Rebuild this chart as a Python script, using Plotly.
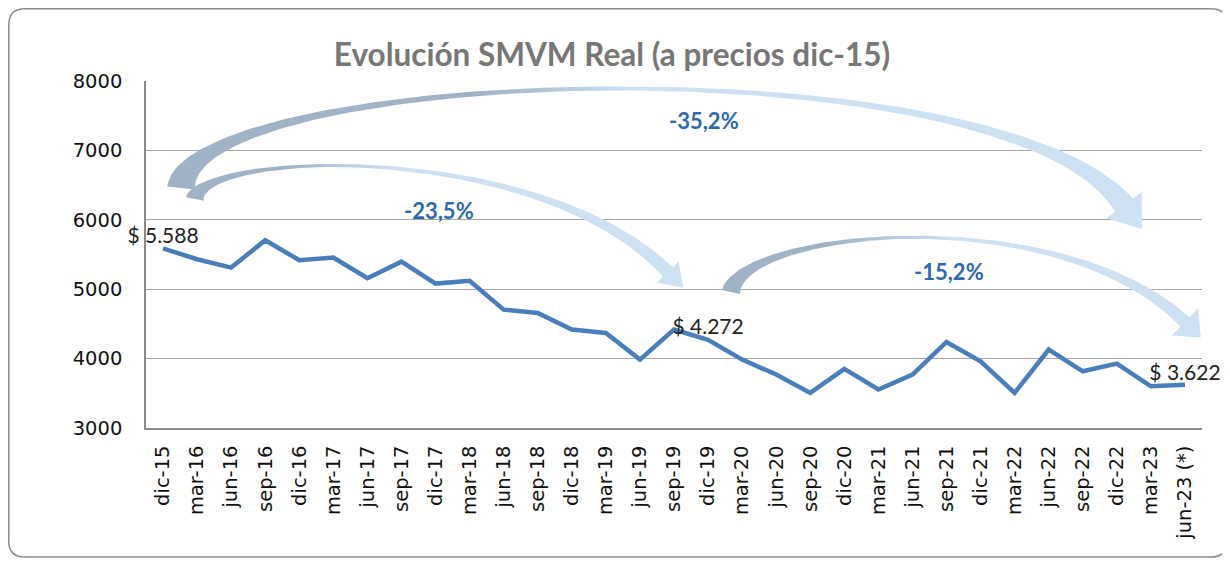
import numpy as np
import plotly.graph_objects as go

# ---------------- data ----------------
categories = ["dic-15", "mar-16", "jun-16", "sep-16", "dic-16", "mar-17", "jun-17", "sep-17",
              "dic-17", "mar-18", "jun-18", "sep-18", "dic-18", "mar-19", "jun-19", "sep-19",
              "dic-19", "mar-20", "jun-20", "sep-20", "dic-20", "mar-21", "jun-21", "sep-21",
              "dic-21", "mar-22", "jun-22", "sep-22", "dic-22", "mar-23", "jun-23 (*)"]
smvm_real = [5588, 5432, 5311, 5706, 5418, 5455, 5158, 5397, 5081, 5120, 4705, 4658, 4418,
             4370, 3986, 4418, 4272, 3986, 3770, 3506, 3851, 3554, 3770, 4240, 3961, 3506,
             4130, 3817, 3928, 3601, 3622]
labeled_points = [0, 16, 30]
variation_labels = ["-35,2%", "-23,5%", "-15,2%"]
variation_pos = [(15.88, 7438), (8.10, 6141), (23.07, 5248)]  # (category index, value)
y_ticks = [3000, 4000, 5000, 6000, 7000, 8000]

# ---------------- layout geometry (page body has an 8px margin) ----------------
W, H = 1222, 553
L, R, T, B = 138, 28, 73, 133
PW, PH = W - L - R, H - T - B
X0, X1 = -0.5, len(categories) - 0.5
Y0, Y1 = 3000, 8000


def to_px(xi, yv):
    return L + (xi - X0) / (X1 - X0) * PW, T + (Y1 - yv) / (Y1 - Y0) * PH


def to_data(px, py):
    return X0 + (px - L) / PW * (X1 - X0), Y1 - (py - T) / PH * (Y1 - Y0)


def curved_arrow(ctrl, w_min, d, head_w, head_len):
    pts = np.array([to_px(*p) for p in ctrl])
    t = np.linspace(0, 1, 160)[:, None]
    c = ((1 - t) ** 3) * pts[0] + 3 * ((1 - t) ** 2) * t * pts[1] + 3 * (1 - t) * t ** 2 * pts[2] + t ** 3 * pts[3]
    dc = 3 * ((1 - t) ** 2) * (pts[1] - pts[0]) + 6 * (1 - t) * t * (pts[2] - pts[1]) + 3 * t ** 2 * (pts[3] - pts[2])
    tan = dc / np.linalg.norm(dc, axis=1, keepdims=True)
    nrm = np.column_stack([-tan[:, 1], tan[:, 0]])
    w = (w_min + d * np.abs(tan[:, 1]) ** 1.3)[:, None]
    s1 = c + nrm * w / 2
    s2 = c - nrm * w / 2
    ce, te, ne = c[-1], tan[-1], nrm[-1]
    head = np.array([ce + ne * head_w / 2, ce + te * head_len, ce - ne * head_w / 2])
    poly = np.vstack([s1, head, s2[::-1], s1[:1]])
    xs, ys = zip(*[to_data(px, py) for px, py in poly])
    return list(xs), list(ys)


DARK = "#a0b2c5"
LIGHT = "#cde1f3"
arrows = [
    dict(ctrl=[(0.53, 6458), (0.94, 8231), (24.57, 8591), (28.21, 6213)], w_min=4, d=24, hw=44, hl=30, s=(0.32, 0.48)),
    dict(ctrl=[(0.94, 6300), (1.23, 7006), (11.07, 7150), (14.82, 5248)], w_min=3, d=16, hw=30, hl=22, s=(0.19, 0.42)),
    dict(ctrl=[(16.67, 4960), (17.08, 5882), (26.33, 6285), (30.0, 4527)], w_min=3, d=16, hw=38, hl=22, s=(0.22, 0.49)),
]

fig = go.Figure()
for a in arrows:
    ax, ay = curved_arrow(a["ctrl"], a["w_min"], a["d"], a["hw"], a["hl"])
    fig.add_trace(go.Scatter(
        x=ax, y=ay, mode="lines", fill="toself", line=dict(width=0, color="rgba(0,0,0,0)"),
        fillcolor=LIGHT,
        fillgradient=dict(type="horizontal",
                          colorscale=[[0, DARK], [a["s"][0], DARK], [a["s"][1], LIGHT], [1, LIGHT]]),
        hoverinfo="skip", showlegend=False, cliponaxis=False))

x_idx = list(range(len(categories)))
point_text = ["$ " + f"{v:,}".replace(",", ".") if i in labeled_points else "" for i, v in enumerate(smvm_real)]
fig.add_trace(go.Scatter(
    x=x_idx, y=smvm_real, mode="lines+text", text=point_text, textposition="top center",
    textfont=dict(family="Lato", size=21, color="#222222"), cliponaxis=False,
    line=dict(color="#4a7ebb", width=4.5), showlegend=False))

for lab, (xi, yv) in zip(variation_labels, variation_pos):
    fig.add_annotation(x=xi, y=yv, text=f"<b>{lab}</b>", showarrow=False,
                       font=dict(family="Lato", size=22, color="#2f69ab"))


# rounded outer border (paper coordinates)
def pp(px, py):
    return (px - L) / PW, (H - B - py) / PH


bx0, by0, bx1, by1, rr = 0.8, 0.8, 1219, 549, 16
pts = [pp(bx0 + rr, by0), pp(bx1 - rr, by0), pp(bx1, by0), pp(bx1, by0 + rr), pp(bx1, by1 - rr),
       pp(bx1, by1), pp(bx1 - rr, by1), pp(bx0 + rr, by1), pp(bx0, by1), pp(bx0, by1 - rr),
       pp(bx0, by0 + rr), pp(bx0, by0)]
f = lambda p: f"{p[0]:.5f},{p[1]:.5f}"
path = (f"M{f(pts[0])} L{f(pts[1])} Q{f(pts[2])} {f(pts[3])} L{f(pts[4])} Q{f(pts[5])} {f(pts[6])} "
        f"L{f(pts[7])} Q{f(pts[8])} {f(pts[9])} L{f(pts[10])} Q{f(pts[11])} {f(pts[0])} Z")
fig.add_shape(type="path", path=path, xref="paper", yref="paper",
              line=dict(color="#8c8c8c", width=1.5), layer="below")

fig.update_layout(
    width=W, height=H, margin=dict(l=L, r=R, t=T, b=B),
    paper_bgcolor="white", plot_bgcolor="white",
    title=dict(text="<b>Evolución SMVM Real (a precios dic-15)</b>", x=604 / W, xanchor="center",
               y=1 - 47 / H, yanchor="middle", font=dict(family="Lato", size=31.5, color="#777777")),
    xaxis=dict(range=[X0, X1], tickmode="array", tickvals=x_idx, ticktext=categories, tickangle=-90,
               showgrid=False, zeroline=False, showline=True, linecolor="#8a8a8a", linewidth=1.5,
               ticks="", tickfont=dict(family="DejaVu Sans", size=19.5, color="#111111"),
               ticklabelstandoff=8),
    yaxis=dict(range=[Y0, Y1], tickmode="array", tickvals=y_ticks, showgrid=True, gridcolor="#a6a6a6",
               gridwidth=1.3, zeroline=False, showline=True, linecolor="#8a8a8a", linewidth=1.5,
               ticks="", tickfont=dict(family="DejaVu Sans", size=19.5, color="#111111"),
               ticklabelstandoff=18, mirror=False),
)

fig.write_html("out.html")
